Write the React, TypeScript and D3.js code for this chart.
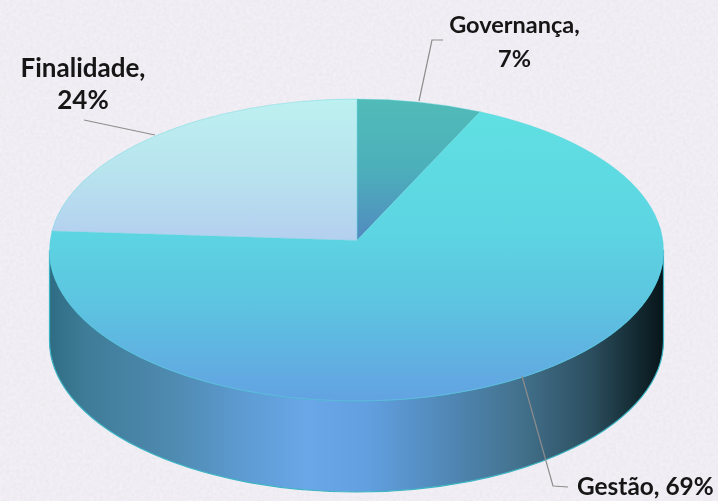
import React from "react";
import * as d3 from "d3";

const categories = ["Governança", "Gestão", "Finalidade"];
const shares = [7, 69, 24];
const labelLines = [["Governança,", "7%"], ["Gestão, 69%"], ["Finalidade,", "24%"]];

const W = 718, H = 501;
const cx = 356.5, cy = 250, rx = 307, ry = 151, depth = 91;
const apex = { x: 357, y: 240.5 };

// pie angle -> point on the rim, cast from the off-centre apex so the tilt reads as perspective
function rim(theta: number) {
  const dx = Math.sin(theta) * rx, dy = -Math.cos(theta) * ry;
  const ox = apex.x - cx, oy = apex.y - cy;
  const a = (dx * dx) / (rx * rx) + (dy * dy) / (ry * ry);
  const b = 2 * ((ox * dx) / (rx * rx) + (oy * dy) / (ry * ry));
  const c = (ox * ox) / (rx * rx) + (oy * oy) / (ry * ry) - 1;
  const t = (-b + Math.sqrt(b * b - 4 * a * c)) / (2 * a);
  return { x: apex.x + dx * t, y: apex.y + dy * t };
}

const pie = d3.pie<number>().sort(null).startAngle(0).endAngle(2 * Math.PI);
const slices = pie(shares);

function slicePath(s: d3.PieArcDatum<number>) {
  const p0 = rim(s.startAngle), p1 = rim(s.endAngle);
  const large = s.endAngle - s.startAngle > Math.PI ? 1 : 0;
  return `M${apex.x},${apex.y}L${p0.x},${p0.y}A${rx},${ry} 0 ${large} 1 ${p1.x},${p1.y}Z`;
}

const wallPath =
  `M${cx - rx},${cy}A${rx},${ry} 0 0 0 ${cx + rx},${cy}` +
  `L${cx + rx},${cy + depth}A${rx},${ry} 0 0 1 ${cx - rx},${cy + depth}Z`;

const fills = ["url(#gGov)", "url(#gGes)", "url(#gFin)"];

const labelStyle: React.CSSProperties = {
  fontFamily: "Lato, sans-serif",
  fontWeight: 700,
  fill: "#141414",
};

const leaders = [
  [[443, 40], [432, 40], [419, 101]],
  [[522, 376], [553, 486], [568, 487]],
  [[84, 120], [155, 135]],
];
const labelPos = [
  { x: 514.5, y: 33, anchor: "middle", size: 23.5, gap: 34 },
  { x: 577, y: 495, anchor: "start", size: 24.4, gap: 0 },
  { x: 83, y: 77, anchor: "middle", size: 26, gap: 32 },
];

const line = d3.line();

export default function App() {
  return (
    <svg width={W} height={H} style={{ position: "absolute", left: 0, top: 0 }}>
      <defs>
        <filter id="paper" x="0" y="0" width="100%" height="100%">
          <feTurbulence type="fractalNoise" baseFrequency="0.3" numOctaves={3} seed={4} />
          <feColorMatrix values="0 0 0 0 0.6  0 0 0 0 0.6  0 0 0 0 0.62  0.3 0 0 0 -0.08" />
        </filter>
        <filter id="soft"><feGaussianBlur stdDeviation="0.45" /></filter>
        <linearGradient id="gGes" gradientUnits="userSpaceOnUse" x1="0" x2="0" y1="110" y2="401">
          <stop offset="0" stopColor="#60e0e2" />
          <stop offset="0.42" stopColor="#5cd5e2" />
          <stop offset="0.68" stopColor="#5dc3e0" />
          <stop offset="1" stopColor="#62a2e2" />
        </linearGradient>
        <linearGradient id="gGov" gradientUnits="userSpaceOnUse" x1="0" x2="0" y1="100" y2="241">
          <stop offset="0" stopColor="#51bbb8" />
          <stop offset="0.5" stopColor="#4cafbb" />
          <stop offset="1" stopColor="#5289c0" />
        </linearGradient>
        <linearGradient id="gFin" gradientUnits="userSpaceOnUse" x1="0" x2="0" y1="100" y2="241">
          <stop offset="0" stopColor="#bdf0f0" />
          <stop offset="0.5" stopColor="#b8e4ee" />
          <stop offset="1" stopColor="#b4cff0" />
        </linearGradient>
        <linearGradient id="gWall" gradientUnits="userSpaceOnUse" x1={cx - rx} x2={cx + rx} y1="0" y2="0">
          <stop offset="0" stopColor="#2f6d84" />
          <stop offset="0.06" stopColor="#3f7c98" />
          <stop offset="0.2" stopColor="#4f8ab0" />
          <stop offset="0.33" stopColor="#5f9dd6" />
          <stop offset="0.42" stopColor="#69a7e8" />
          <stop offset="0.52" stopColor="#619fe0" />
          <stop offset="0.65" stopColor="#5087b5" />
          <stop offset="0.76" stopColor="#44738f" />
          <stop offset="0.88" stopColor="#2c4f60" />
          <stop offset="0.96" stopColor="#12282f" />
          <stop offset="1" stopColor="#08151a" />
        </linearGradient>
      </defs>
      <rect width={W} height={H} fill="#f2f0f6" />
      <rect width={W} height={H} filter="url(#paper)" />
      <path d={wallPath} fill="url(#gWall)" stroke="#3cb4c4" strokeWidth={1.2} />
      <path d={`M${cx - rx},${cy}A${rx},${ry} 0 0 0 ${cx + rx},${cy}`} fill="none" stroke="#5aa8d8" strokeWidth={1} />
      {slices.map((s, i) => (
        <path key={categories[i]} d={slicePath(s)} fill={fills[i]} stroke="#63d6de" strokeWidth={0.7} strokeOpacity={0.6} />
      ))}
      {leaders.map((pts, i) => (
        <path key={i} d={line(pts as [number, number][]) ?? ""} fill="none" stroke="#8d8d8d" strokeWidth={1.2} />
      ))}
      <g filter="url(#soft)">
        {labelLines.map((lines, i) => (
          <text key={i} textAnchor={labelPos[i].anchor} style={{ ...labelStyle, fontSize: labelPos[i].size }}>
            {lines.map((t, j) => (
              <tspan key={j} x={labelPos[i].x} y={labelPos[i].y + j * labelPos[i].gap}>{t}</tspan>
            ))}
          </text>
        ))}
      </g>
    </svg>
  );
}
